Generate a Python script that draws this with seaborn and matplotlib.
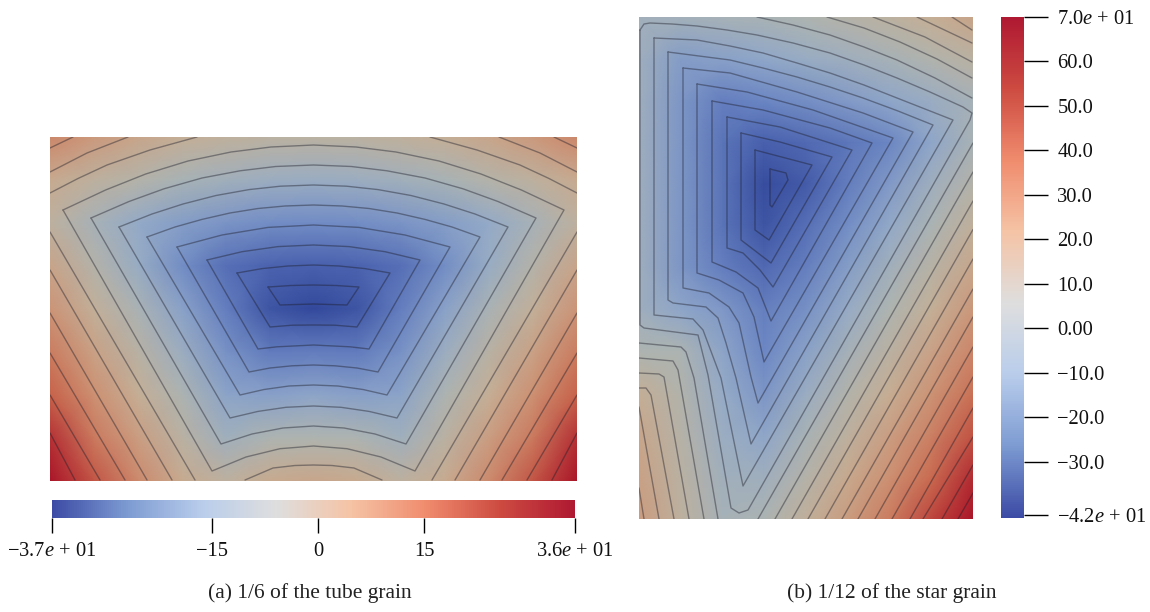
import matplotlib
matplotlib.use("Agg")
import matplotlib.pyplot as plt
import numpy as np
import seaborn as sns
from matplotlib.cm import ScalarMappable
from matplotlib.colors import Normalize

# field samples, coarse grid, in the units of the colour bars
tube_field = [
    [19.5, 15.0, 11.3, 8.0, 5.8, 4.5, 4.0, 4.5, 5.8, 8.0, 11.3, 15.0, 19.5],
    [10.0, 5.3, 1.5, -2.3, -4.5, -6.3, -6.8, -6.3, -4.5, -2.3, 1.5, 5.3, 10.0],
    [5.0, -3.0, -8.8, -12.5, -15.3, -17.0, -17.5, -17.0, -15.3, -12.5, -8.8, -3.0, 5.0],
    [11.5, 2.0, -7.5, -16.8, -24.5, -27.5, -28.3, -27.5, -24.5, -16.8, -7.5, 2.0, 11.5],
    [16.5, 7.0, -1.8, -11.5, -21.0, -31.5, -35.0, -31.5, -21.0, -11.5, -1.8, 7.0, 16.5],
    [22.0, 12.5, 3.3, -6.3, -15.8, -21.8, -21.3, -21.8, -15.8, -6.3, 3.3, 12.5, 22.0],
    [27.0, 17.5, 8.3, -1.0, -10.8, -12.0, -10.5, -12.0, -10.8, -1.0, 8.3, 17.5, 27.0],
    [32.8, 22.5, 13.5, 4.0, -5.0, -1.0, 0.0, -1.0, -5.0, 4.0, 13.5, 22.5, 32.8],
    [36.0, 28.5, 19.0, 10.0, 5.0, 10.0, 11.0, 10.0, 5.0, 10.0, 19.0, 28.5, 36.0],
]
star_field = [
    [8.1, 8.6, 10.3, 11.5, 14.4, 18.0, 22.3, 27.3, 32.6],
    [6.2, -5.1, -3.4, -0.5, 3.3, 6.4, 10.5, 15.6, 21.1],
    [6.2, -7.7, -17.3, -14.4, -10.6, -5.8, -1.0, 4.0, 10.0],
    [6.2, -7.7, -21.2, -28.8, -25.0, -20.2, -14.2, -1.0, 11.0],
    [6.2, -7.7, -21.2, -37.0, -30.8, -17.8, -6.3, 6.2, 17.7],
    [6.2, -7.7, -21.2, -33.6, -23.1, -11.3, 0.7, 12.4, 24.9],
    [6.2, -7.7, -17.3, -25.0, -16.8, -4.4, 7.6, 19.4, 31.6],
    [6.2, -1.0, -6.8, -16.8, -9.9, 2.4, 14.4, 26.4, 38.6],
    [13.9, 12.9, -1.5, -14.0, -2.9, 9.6, 21.1, 33.3, 45.3],
    [26.8, 16.3, 2.1, -8.2, 4.3, 16.3, 28.3, 40.3, 52.0],
    [31.6, 18.7, 4.8, -1.0, 11.0, 23.0, 35.0, 47.0, 59.0],
    [34.0, 20.8, 7.6, 6.2, 17.7, 30.2, 41.7, 53.5, 65.7],
    [36.4, 23.0, 10.0, 12.7, 24.7, 36.7, 48.4, 60.9, 70.0],
]

# iso-lines, in the plane coordinates of each panel
tube_extent = (50, 577, 481, 137)
tube_lines = [
    [(268, 287), (291, 285.5), (313.5, 285), (336, 285.5), (359, 287), (347, 305), (313.5, 304), (280, 305), (268, 287)],
    [(237, 273), (262, 268.6), (288, 266), (313.5, 265), (339, 266), (365, 268.6), (390, 273), (357, 327), (335, 325.2), (313.5, 325), (292, 325.2), (270, 327), (237, 273)],
    [(207, 260), (242, 251.7), (278, 246.6), (313.5, 245), (349, 246.6), (385, 251.7), (420, 260), (369, 349), (350, 346.8), (313.5, 345), (277, 346.8), (258, 349), (207, 260)],
    [(177, 247), (222, 235), (268, 227.4), (313.5, 225), (359, 227.4), (405, 235), (450, 247), (378, 372), (357, 368), (335, 365.8), (313.5, 365), (292, 365.8), (270, 368), (249, 372), (177, 247)],
    [(147, 237), (175, 227), (202, 219.4), (230, 213), (258, 208.5), (285, 206), (313.5, 205), (342, 206), (369, 208.5), (397, 213), (425, 219.4), (452, 227), (480, 237), (387, 395), (363, 389.5), (338, 386), (313.5, 385), (289, 386), (264, 389.5), (240, 395), (147, 237)],
    [(119, 227), (152, 214), (183, 204), (216, 195.5), (249, 189.6), (280.4, 186.2), (313.5, 185), (346.6, 186.2), (378, 189.6), (411, 195.5), (444, 204), (475, 214), (508, 227), (397, 418), (369, 411.4), (341, 407.3), (313.5, 406), (286, 407.3), (258, 411.4), (230, 418), (119, 227)],
    [(91, 218), (129, 201.5), (164, 188.8), (202, 178), (240, 170.8), (275.7, 166.5), (313.5, 165), (351.3, 166.5), (387, 170.8), (425, 178), (463, 188.8), (498, 201.5), (536, 218), (406, 444), (375, 434), (344, 428), (313.5, 426), (283, 428), (252, 434), (221, 444), (91, 218)],
    [(63, 210), (105.6, 190), (145.7, 174), (188, 161), (231, 152), (271, 147), (313.5, 145), (356, 147), (396, 152), (439, 161), (481, 174), (521.4, 190), (564, 210), (415, 471), (381, 457), (347, 448.7), (313.5, 446), (280, 448.7), (246, 457), (212, 471), (63, 210)],
    [(50, 193), (78, 178.5), (107, 165), (150, 150), (197, 137)],
    [(430, 137), (477, 150), (520, 165), (549, 178.5), (577, 193)],
    [(50, 232), (195, 480)],
    [(432, 480), (577, 232)],
    [(245, 480), (273, 468), (295, 465.5), (313.5, 465), (332, 465.5), (354, 468), (382, 480)],
    [(50, 172), (87, 153), (128, 137)],
    [(499, 137), (540, 153), (577, 172)],
    [(50, 270), (172, 480)],
    [(455, 480), (577, 270)],
    [(50, 148), (73, 137)],
    [(554, 137), (577, 148)],
    [(50, 313), (147, 480)],
    [(480, 480), (577, 313)],
    [(50, 353), (125, 480)],
    [(502, 480), (577, 353)],
    [(50, 395), (100, 480)],
    [(527, 480), (577, 395)],
    [(50, 433), (75, 480)],
    [(552, 480), (577, 433)],
]

star_extent = (639, 973, 519, 17)
star_lines = [
    [(770, 169), (786, 173), (788, 180), (772, 207), (770, 205), (770, 169)],
    [(755, 150), (812, 165), (769, 240), (755, 230), (755, 150)],
    [(741, 133), (780, 142), (832, 157), (771, 263), (741, 240), (741, 133)],
    [(727, 117), (780, 127), (852, 150), (773, 287), (760, 270), (743, 253), (727, 248), (727, 117)],
    [(712, 101), (763, 110), (830, 128), (872, 143), (771, 321), (758, 288), (736, 272), (712, 262), (712, 101)],
    [(697, 84), (747, 92), (813, 110), (893, 138), (764, 362), (754, 317), (743, 293), (719, 280), (697, 273), (697, 84)],
    [(683, 68), (730, 73), (797, 92), (863, 113), (913, 132), (758, 403), (751, 377), (739, 323), (729, 307), (709, 293), (683, 288), (683, 68)],
    [(668, 52), (730, 60), (763, 68), (797, 77), (830, 87), (863, 98), (898, 111), (933, 125), (751, 444), (736, 378), (726, 343), (718, 318), (706, 307), (673, 303), (668, 300), (668, 52)],
    [(654, 38), (697, 40), (730, 46), (763, 53), (797, 63), (830, 73), (864, 85), (897, 98), (925, 109), (953, 120), (743, 486), (721, 378), (703, 330), (693, 319), (654, 315), (654, 38)],
    [(640, 30), (644, 24), (650, 23), (672, 24), (697, 26), (727, 30), (757, 35), (793, 43), (830, 53), (864, 65), (897, 78), (930, 92), (963, 107), (972, 113), (970, 120), (748, 510), (739, 513), (731, 508), (708, 375), (698, 335), (644, 328), (640, 325), (640, 30)],
    [(757, 17), (793, 25), (830, 35), (864, 47), (897, 60), (935, 78), (972, 98)],
    [(827, 17), (864, 28), (900, 42), (937, 59), (972, 78)],
    [(873, 17), (925, 37), (972, 62)],
    [(917, 17), (972, 43)],
    [(952, 17), (972, 30)],
    [(639, 343), (681, 347), (686, 352), (694, 378), (718, 519)],
    [(639, 358), (673, 361), (678, 370), (704, 519)],
    [(639, 373), (659, 374), (664, 377), (689, 519)],
    [(639, 388), (646, 388), (651, 395), (674, 519)],
    [(639, 407), (659, 519)],
    [(639, 488), (644, 519)],
    [(758, 519), (973, 143)],
    [(775, 519), (973, 172)],
    [(792, 519), (973, 201)],
    [(808, 519), (973, 229.5)],
    [(825, 519), (973, 259)],
    [(842, 519), (973, 289)],
    [(858, 519), (973, 317)],
    [(875, 519), (973, 347)],
    [(892, 519), (973, 377)],
    [(910, 519), (973, 408)],
    [(923, 519), (973, 437)],
    [(942, 519), (973, 465)],
    [(958, 519), (973, 493)],
]

tube_ticks = [-37.7, -15, 0, 15, 36.3]
tube_tick_labels = ["\u22123.7$e$ + 01", "\u221215", "0", "15", "3.6$e$ + 01"]
star_ticks = [70, 60, 50, 40, 30, 20, 10, 0, -10, -20, -30, -42]
star_tick_labels = ["7.0$e$ + 01", "60.0", "50.0", "40.0", "30.0", "20.0", "10.0",
                    "0.00", "\u221210.0", "\u221220.0", "\u221230.0", "\u22124.2$e$ + 01"]
tube_caption = "(a) 1/6 of the tube grain"
star_caption = "(b) 1/12 of the star grain"

# the fields are shaded darker than their colour bars
field_colors = ["#2d4196", "#4a62ae", "#6c87c4", "#92a9c9", "#aeb4b0", "#c6ae94", "#cd9072", "#c8644b", "#aa1428"]
bar_colors = ["#3c4ba5", "#7d9bd2", "#b9cdeb", "#dedede", "#f5c3a5", "#f08c6e", "#cd4b41", "#af1932"]

W, H = 1150, 612

sns.set_theme(style="white")
plt.rcParams["font.family"] = ["Liberation Serif", "DejaVu Serif"]
plt.rcParams["mathtext.fontset"] = "custom"
plt.rcParams["mathtext.rm"] = "Liberation Serif"
plt.rcParams["mathtext.it"] = "Liberation Serif:italic"
plt.rcParams["mathtext.bf"] = "Liberation Serif:bold"


def px_axes(fig, x0, y0, x1, y1):
    return fig.add_axes([x0 / W, 1 - y1 / H, (x1 - x0) / W, (y1 - y0) / H])


def draw_panel(fig, field, lines, extent, vmin, vmax):
    x0, x1, y1, y0 = extent
    data = np.array(field)
    cmap = sns.blend_palette(field_colors, as_cmap=True)
    ax = px_axes(fig, x0, y0, x1, y1)
    sns.heatmap(data, cmap=cmap, vmin=vmin, vmax=vmax, cbar=False, shading="gouraud",
                xticklabels=False, yticklabels=False, ax=ax)
    ax.set_xlim(0, data.shape[1] - 1)
    ax.set_ylim(data.shape[0] - 1, 0)

    over = px_axes(fig, x0, y0, x1, y1)
    over.set_xlim(x0, x1)
    over.set_ylim(y1, y0)
    over.axis("off")
    for line in lines:
        xs, ys = zip(*line)
        over.plot(xs, ys, color="#1c1c28", alpha=0.42, linewidth=1.0, solid_joinstyle="round")


fig = plt.figure(figsize=(W / 100, H / 100), dpi=100)

draw_panel(fig, tube_field, tube_lines, tube_extent, -37, 36)
draw_panel(fig, star_field, star_lines, star_extent, -42, 70)

cmap_bar = sns.blend_palette(bar_colors, as_cmap=True)

cax = px_axes(fig, 52, 500, 575, 518)
fig.colorbar(ScalarMappable(Normalize(tube_ticks[0], tube_ticks[-1]), cmap_bar), cax=cax, orientation="horizontal")
cax.set_xticks(tube_ticks, tube_tick_labels)
cax.tick_params(axis="x", length=11, width=1, color="black", labelsize=14.8, pad=6, labelcolor="#111111", bottom=True)
cax.minorticks_off()
for s in cax.spines.values():
    s.set_visible(False)

cax = px_axes(fig, 1001, 17, 1024, 518)
fig.colorbar(ScalarMappable(Normalize(-42.7, 70), cmap_bar), cax=cax)
cax.set_yticks(star_ticks, star_tick_labels)
cax.tick_params(axis="y", length=17, width=1, color="black", labelsize=14.8, pad=7, labelcolor="#111111", right=True)
cax.minorticks_off()
for s in cax.spines.values():
    s.set_visible(False)

fig.text(310 / W, 1 - 593 / H, tube_caption, ha="center", va="center", fontsize=15.5, color="#222222")
fig.text(892 / W, 1 - 593 / H, star_caption, ha="center", va="center", fontsize=15.5, color="#222222")

fig.savefig("out.png", dpi=100)
